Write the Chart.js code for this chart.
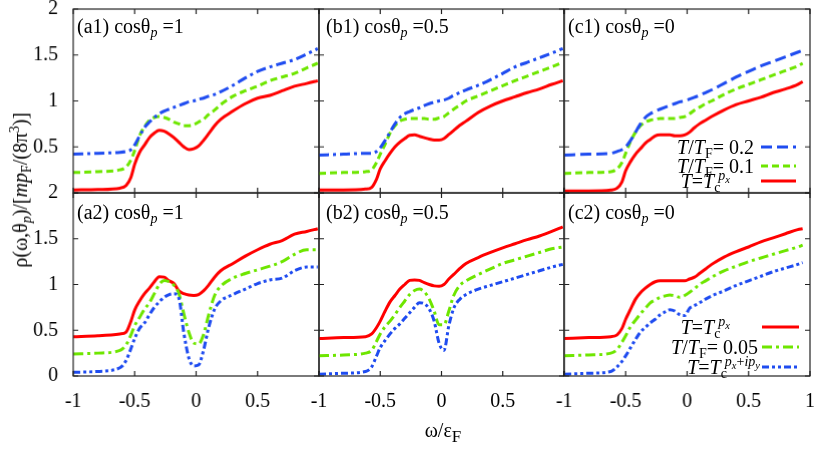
<!DOCTYPE html>
<html lang="en">
<head>
<meta charset="UTF-8">
<title>Spectral density panels</title>
<script src="https://cdn.jsdelivr.net/npm/chart.js"></script>
<style>
    body { margin: 0; background: #fff; }
    #stage {
        position: relative;
        width: 817px;
        height: 450px;
        overflow: hidden;
        font-family: 'Liberation Serif', 'Times New Roman', Tinos, 'DejaVu Serif', 'Noto Serif', FreeSerif, serif;
        font-size: 20px;
        color: #000;
    }
    #stage canvas { position: absolute; }
    .txt { position: absolute; white-space: nowrap; line-height: 24px; }
    .txt sub { font-size: 70%; vertical-align: -0.3em; line-height: 0; }
    .txt sup { font-size: 70%; vertical-align: 0.55em; line-height: 0; }
    .txt sup sub { font-size: 75%; vertical-align: -0.25em; }
    .legend { position: absolute; text-align: right; white-space: nowrap; }
    .ytitle { position: absolute; left: 20px; top: 190px; transform: translate(-50%, -50%) rotate(-90deg); white-space: nowrap; }
    svg.sample { position: absolute; overflow: visible; }
</style>
</head>
<body>
<div id="stage"></div>
<script>
    // omega / eps_F sample points (common grid); c panels stop a bit earlier
    const omega  = [-1, -0.8, -0.62, -0.57, -0.53, -0.5, -0.46, -0.42, -0.38, -0.34, -0.3, -0.26, -0.22, -0.18, -0.14, -0.1, -0.06, -0.02, 0.02, 0.06, 0.1, 0.15, 0.2, 0.3, 0.4, 0.5, 0.6, 0.7, 0.8, 0.9, 0.99];
    const omegaC = [-1, -0.8, -0.62, -0.57, -0.53, -0.5, -0.46, -0.42, -0.38, -0.34, -0.3, -0.26, -0.22, -0.18, -0.14, -0.1, -0.06, -0.02, 0.02, 0.06, 0.1, 0.15, 0.2, 0.3, 0.4, 0.5, 0.6, 0.7, 0.8, 0.9, 0.94];

    // top row: T = Tc(px) (red), T/TF = 0.1 (green), T/TF = 0.2 (blue)
    const a1Red   = [0.03, 0.035, 0.05, 0.08, 0.17, 0.31, 0.44, 0.52, 0.6, 0.65, 0.68, 0.67, 0.64, 0.6, 0.55, 0.5, 0.47, 0.48, 0.51, 0.57, 0.64, 0.73, 0.8, 0.89, 0.97, 1.03, 1.06, 1.11, 1.16, 1.19, 1.22];
    const a1Green = [0.22, 0.23, 0.25, 0.28, 0.36, 0.46, 0.62, 0.72, 0.79, 0.82, 0.83, 0.82, 0.8, 0.77, 0.75, 0.73, 0.73, 0.74, 0.77, 0.8, 0.85, 0.9, 0.96, 1.05, 1.11, 1.16, 1.22, 1.26, 1.3, 1.36, 1.41];
    const a1Blue  = [0.42, 0.43, 0.44, 0.45, 0.47, 0.52, 0.62, 0.71, 0.77, 0.82, 0.86, 0.89, 0.91, 0.93, 0.95, 0.97, 0.99, 1.0, 1.02, 1.03, 1.05, 1.07, 1.1, 1.17, 1.25, 1.32, 1.37, 1.41, 1.45, 1.51, 1.57];

    const b1Red   = [0.03, 0.03, 0.04, 0.06, 0.15, 0.26, 0.35, 0.43, 0.5, 0.55, 0.59, 0.625, 0.63, 0.615, 0.6, 0.585, 0.575, 0.575, 0.59, 0.635, 0.68, 0.735, 0.78, 0.875, 0.945, 1.0, 1.045, 1.09, 1.13, 1.18, 1.22];
    const b1Green = [0.21, 0.22, 0.23, 0.25, 0.33, 0.42, 0.53, 0.65, 0.73, 0.78, 0.8, 0.81, 0.81, 0.81, 0.81, 0.8, 0.8, 0.815, 0.83, 0.87, 0.91, 0.955, 1.0, 1.055, 1.11, 1.165, 1.22, 1.27, 1.32, 1.37, 1.42];
    const b1Blue  = [0.41, 0.42, 0.43, 0.43, 0.45, 0.49, 0.57, 0.66, 0.75, 0.82, 0.86, 0.885, 0.905, 0.925, 0.95, 0.97, 0.985, 1.0, 1.01, 1.03, 1.06, 1.09, 1.12, 1.17, 1.23, 1.3, 1.37, 1.42, 1.47, 1.52, 1.57];

    const c1Red   = [0.02, 0.02, 0.03, 0.05, 0.12, 0.24, 0.34, 0.42, 0.48, 0.54, 0.58, 0.62, 0.63, 0.63, 0.63, 0.62, 0.62, 0.63, 0.66, 0.71, 0.75, 0.79, 0.83, 0.9, 0.96, 1.0, 1.04, 1.09, 1.13, 1.18, 1.21];
    const c1Green = [0.21, 0.22, 0.23, 0.26, 0.33, 0.43, 0.56, 0.66, 0.73, 0.77, 0.79, 0.8, 0.81, 0.81, 0.81, 0.81, 0.82, 0.83, 0.86, 0.9, 0.93, 0.97, 1.0, 1.07, 1.13, 1.18, 1.23, 1.28, 1.33, 1.38, 1.41];
    const c1Blue  = [0.41, 0.42, 0.43, 0.45, 0.47, 0.5, 0.57, 0.66, 0.75, 0.82, 0.86, 0.89, 0.91, 0.93, 0.95, 0.97, 0.99, 1.0, 1.02, 1.04, 1.06, 1.09, 1.12, 1.19, 1.26, 1.32, 1.38, 1.43, 1.48, 1.53, 1.55];

    // bottom row: T = Tc(px) (red), T/TF = 0.05 (green), T = Tc(px+ipy) (blue)
    const a2Red   = [0.43, 0.44, 0.46, 0.48, 0.6, 0.72, 0.82, 0.9, 0.96, 1.03, 1.085, 1.08, 1.04, 1.01, 0.93, 0.9, 0.885, 0.88, 0.89, 0.93, 0.99, 1.08, 1.15, 1.23, 1.31, 1.38, 1.44, 1.48, 1.55, 1.58, 1.61];
    const a2Green = [0.24, 0.25, 0.28, 0.34, 0.45, 0.55, 0.64, 0.73, 0.8, 0.9, 1.0, 1.045, 1.03, 0.99, 0.9, 0.68, 0.48, 0.36, 0.35, 0.45, 0.66, 0.88, 0.98, 1.07, 1.12, 1.16, 1.2, 1.25, 1.33, 1.38, 1.38];
    const a2Blue  = [0.04, 0.05, 0.09, 0.17, 0.3, 0.41, 0.52, 0.58, 0.67, 0.75, 0.81, 0.86, 0.89, 0.9, 0.85, 0.47, 0.2, 0.11, 0.12, 0.28, 0.52, 0.73, 0.82, 0.89, 0.95, 1.01, 1.05, 1.07, 1.15, 1.19, 1.19];

    const b2Red   = [0.41, 0.42, 0.43, 0.46, 0.53, 0.6, 0.71, 0.81, 0.88, 0.95, 1.0, 1.045, 1.05, 1.045, 1.02, 1.0, 0.985, 0.98, 1.0, 1.06, 1.11, 1.175, 1.23, 1.295, 1.35, 1.4, 1.445, 1.49, 1.53, 1.58, 1.63];
    const b2Green = [0.22, 0.23, 0.25, 0.28, 0.38, 0.46, 0.54, 0.6, 0.67, 0.75, 0.82, 0.89, 0.935, 0.95, 0.92, 0.84, 0.71, 0.56, 0.56, 0.71, 0.88, 0.99, 1.04, 1.11, 1.17, 1.23, 1.27, 1.31, 1.35, 1.39, 1.41];
    const b2Blue  = [0.02, 0.03, 0.05, 0.1, 0.22, 0.31, 0.39, 0.46, 0.52, 0.57, 0.63, 0.69, 0.75, 0.8, 0.79, 0.73, 0.6, 0.36, 0.28, 0.55, 0.74, 0.84, 0.89, 0.95, 0.99, 1.03, 1.07, 1.11, 1.15, 1.19, 1.22];

    const c2Red   = [0.41, 0.42, 0.43, 0.45, 0.52, 0.62, 0.73, 0.84, 0.91, 0.96, 1.0, 1.03, 1.04, 1.04, 1.04, 1.04, 1.04, 1.04, 1.06, 1.08, 1.12, 1.17, 1.22, 1.3, 1.36, 1.41, 1.465, 1.51, 1.555, 1.6, 1.61];
    const c2Green = [0.22, 0.23, 0.25, 0.29, 0.37, 0.44, 0.54, 0.61, 0.68, 0.74, 0.8, 0.83, 0.86, 0.875, 0.885, 0.875, 0.86, 0.88, 0.915, 0.955, 1.0, 1.04, 1.08, 1.15, 1.2, 1.25, 1.29, 1.33, 1.37, 1.41, 1.43];
    const c2Blue  = [0.02, 0.03, 0.05, 0.1, 0.16, 0.22, 0.31, 0.4, 0.48, 0.53, 0.58, 0.62, 0.67, 0.7, 0.725, 0.71, 0.67, 0.66, 0.74, 0.77, 0.8, 0.84, 0.875, 0.93, 0.99, 1.04, 1.09, 1.14, 1.18, 1.22, 1.24];

    const xTicks = [-1, -0.5, 0, 0.5, 1];
    const yTicks = [0, 0.5, 1, 1.5, 2];

    const RED = '#ff0000', GREEN = '#6ee600', BLUE = '#1f4cf0';
    const SOLID = [], DASHED = [7, 4], LONGDASH = [11, 5], DASHDOT = [10, 4, 3, 4], DASHDOTDOT = [7, 3, 3, 3, 3, 3];

    const COL_LEFT = [73, 318.5, 564];
    const ROW_TOP = [9, 192.5];
    const PW = 245.5, PH = 183.5;
    const PAD_L = 73, PAD_T = 9, PAD_R = 8, PAD_B = 62;
    const FONT = "'Liberation Serif', 'Times New Roman', Tinos, 'DejaVu Serif', 'Noto Serif', FreeSerif, serif";

    const panels = [
        { row: 0, col: 0, x: omega,  series: [[a1Blue, BLUE, DASHDOT], [a1Green, GREEN, DASHED], [a1Red, RED, SOLID]] },
        { row: 0, col: 1, x: omega,  series: [[b1Blue, BLUE, DASHDOT], [b1Green, GREEN, DASHED], [b1Red, RED, SOLID]] },
        { row: 0, col: 2, x: omegaC, series: [[c1Blue, BLUE, LONGDASH], [c1Green, GREEN, DASHED], [c1Red, RED, SOLID]] },
        { row: 1, col: 0, x: omega,  series: [[a2Blue, BLUE, DASHDOTDOT], [a2Green, GREEN, DASHDOT], [a2Red, RED, SOLID]] },
        { row: 1, col: 1, x: omega,  series: [[b2Blue, BLUE, DASHDOTDOT], [b2Green, GREEN, DASHDOT], [b2Red, RED, SOLID]] },
        { row: 1, col: 2, x: omegaC, series: [[c2Blue, BLUE, DASHDOTDOT], [c2Green, GREEN, DASHDOT], [c2Red, RED, SOLID]] }
    ];

    // gnuplot-like frame with inward ticks on all four sides
    const framePlugin = {
        id: 'frame',
        afterDraw(chart) {
            const { ctx, chartArea: a, scales: { x, y } } = chart;
            ctx.save();
            ctx.strokeStyle = '#222';
            ctx.lineWidth = 1.2;
            ctx.strokeRect(a.left, a.top, a.right - a.left, a.bottom - a.top);
            ctx.beginPath();
            x.ticks.forEach(t => {
                const px = x.getPixelForValue(t.value);
                ctx.moveTo(px, a.bottom); ctx.lineTo(px, a.bottom - 5);
                ctx.moveTo(px, a.top); ctx.lineTo(px, a.top + 5);
            });
            y.ticks.forEach(t => {
                const py = y.getPixelForValue(t.value);
                ctx.moveTo(a.left, py); ctx.lineTo(a.left + 5, py);
                ctx.moveTo(a.right, py); ctx.lineTo(a.right - 5, py);
            });
            ctx.stroke();
            ctx.restore();
        }
    };

    const stage = document.getElementById('stage');

    panels.forEach(p => {
        const w = PAD_L + PW + PAD_R, h = PAD_T + PH + PAD_B;
        const canvas = document.createElement('canvas');
        canvas.width = w;
        canvas.height = h;
        canvas.style.left = (COL_LEFT[p.col] - PAD_L) + 'px';
        canvas.style.top = (ROW_TOP[p.row] - PAD_T) + 'px';
        canvas.style.width = w + 'px';
        canvas.style.height = h + 'px';
        stage.appendChild(canvas);

        const showX = p.row === 1;
        const showY = p.col === 0;

        new Chart(canvas, {
            type: 'line',
            data: {
                datasets: p.series.map(([vals, color, dash]) => ({
                    data: p.x.map((x, i) => ({ x: x, y: vals[i] })),
                    borderColor: color,
                    borderWidth: 3,
                    borderDash: dash,
                    pointRadius: 0,
                    fill: false,
                    cubicInterpolationMode: 'monotone'
                }))
            },
            options: {
                responsive: false,
                animation: false,
                events: [],
                layout: { padding: { left: 0, top: PAD_T, right: PAD_R, bottom: 0 } },
                plugins: { legend: { display: false }, tooltip: { enabled: false } },
                scales: {
                    x: {
                        type: 'linear', min: -1, max: 1,
                        afterBuildTicks: s => { s.ticks = xTicks.map(v => ({ value: v })); },
                        afterFit: s => { s.height = PAD_B; s.paddingLeft = 0; s.paddingRight = 0; },
                        grid: { display: false, drawTicks: false },
                        border: { display: false },
                        ticks: {
                            display: showX,
                            autoSkip: false,
                            maxRotation: 0,
                            padding: 14,
                            color: '#000',
                            font: { family: FONT, size: 20 },
                            callback: v => (v === 1 && p.col < 2) ? '' : String(v)
                        }
                    },
                    y: {
                        type: 'linear', min: 0, max: 2,
                        afterBuildTicks: s => { s.ticks = yTicks.map(v => ({ value: v })); },
                        afterFit: s => { s.width = PAD_L; s.paddingTop = 0; s.paddingBottom = 0; },
                        grid: { display: false, drawTicks: false },
                        border: { display: false },
                        ticks: {
                            display: showY,
                            autoSkip: false,
                            padding: 15,
                            color: '#000',
                            font: { family: FONT, size: 20 },
                            callback: v => (v === 0 && p.row === 0) ? '' : String(v)
                        }
                    }
                }
            },
            plugins: [framePlugin]
        });
    });

    // text overlays
    function addText(html, cls, style) {
        const d = document.createElement('div');
        d.className = cls;
        d.innerHTML = html;
        Object.assign(d.style, style);
        stage.appendChild(d);
        return d;
    }

    const panelLabels = [
        ['(a1)', '1', 77, 14], ['(b1)', '0.5', 326, 14], ['(c1)', '0', 568, 14],
        ['(a2)', '1', 77, 200], ['(b2)', '0.5', 326, 200], ['(c2)', '0', 568, 200]
    ];
    panelLabels.forEach(([tag, val, x, y]) => {
        addText(`${tag} cos&theta;<sub><i>p</i></sub> =${val}`, 'txt', { left: x + 'px', top: y + 'px' });
    });

    addText('&rho;(&omega;,&theta;<sub><i>p</i></sub>)/[<i>mp</i><sub>F</sub>/(8&pi;<sup>3</sup>)]', 'txt ytitle', {});
    addText('&omega;/&epsilon;<sub style="font-size:85%">F</sub>', 'txt', { left: '443px', top: '418px', transform: 'translateX(-50%)' });

    // legends: text right-aligned, then a short line sample
    function legendRow(html, textRight, y, x1, x2, color, dash) {
        addText(html, 'txt legend', { right: (817 - textRight) + 'px', top: (y - 12) + 'px' });
        const svg = document.createElementNS('http://www.w3.org/2000/svg', 'svg');
        svg.setAttribute('class', 'sample');
        svg.setAttribute('width', x2 - x1);
        svg.setAttribute('height', 6);
        svg.style.left = x1 + 'px';
        svg.style.top = (y - 3) + 'px';
        svg.innerHTML = `<line x1="0" y1="3" x2="${x2 - x1}" y2="3" stroke="${color}" stroke-width="3" stroke-dasharray="${dash.length ? dash.join(' ') : 'none'}"/>`;
        stage.appendChild(svg);
    }

    const TC_PX = '<i>T</i>=<i>T</i><sub>c</sub><sup style="margin-left:-0.15em"><i>p<sub>x</sub></i></sup>';
    legendRow('<i>T</i>/<i>T</i><sub>F</sub>= 0.2', 754, 147, 761, 796, BLUE, LONGDASH);
    legendRow('<i>T</i>/<i>T</i><sub>F</sub>= 0.1', 754, 166, 761, 796, GREEN, DASHED);
    legendRow(TC_PX, 730, 181, 761, 796, RED, SOLID);

    legendRow(TC_PX, 730, 327, 762, 799, RED, SOLID);
    legendRow('<i>T</i>/<i>T</i><sub>F</sub>= 0.05', 758, 347, 762, 799, GREEN, DASHDOT);
    legendRow('<i>T</i>=<i>T</i><sub>c</sub><sup style="margin-left:-0.15em"><i>p<sub>x</sub></i>+<i>ip<sub>y</sub></i></sup>', 760, 367, 762, 799, BLUE, DASHDOTDOT);
</script>
</body>
</html>
